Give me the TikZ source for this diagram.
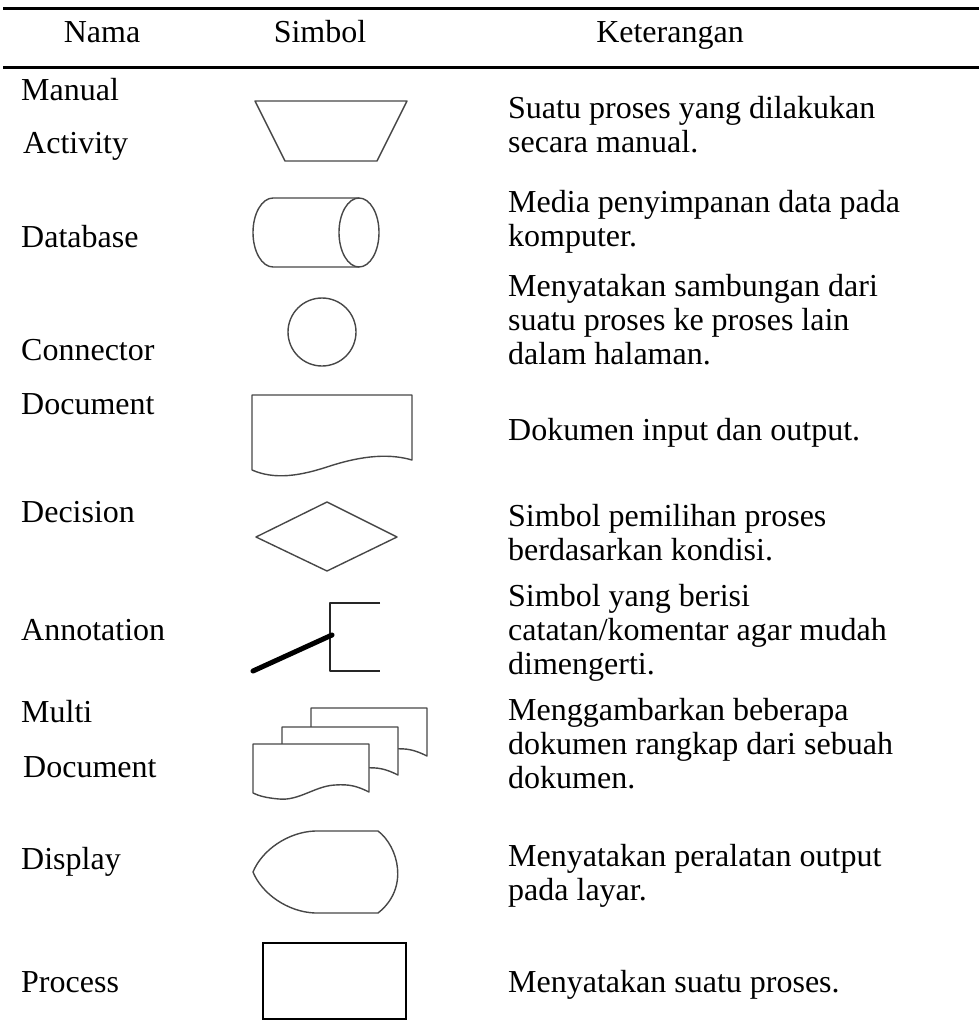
\documentclass[tikz,border=0pt]{standalone}
\usepackage{fontspec}
\setmainfont{Liberation Serif}
\begin{document}
\begin{tikzpicture}[x=1pt,y=-1pt,
  txt/.style={anchor=base west,inner sep=0pt,font=\fontsize{32}{34}\selectfont},
  hdr/.style={anchor=base,inner sep=0pt,font=\fontsize{32}{34}\selectfont},
  rule/.style={line width=3pt},
  sym/.style={draw=black!72,line width=1.4pt,line join=round},
  symfill/.style={sym,fill=white}]
\useasboundingbox (0,0) rectangle (979,1025);

% table rules
\draw[rule] (3,9) -- (979,9);
\draw[rule] (3,68) -- (979,68);

% header
\node[hdr] (hNama) at (102,43) {Nama};
\node[hdr] (hSimbol) at (320,43) {Simbol};
\node[hdr] (hKet) at (670,43) {Keterangan};

% names
\node[txt] (nManual) at (21,100) {Manual};
\node[txt] (nActivity) at (23,153) {Activity};
\node[txt] (nDatabase) at (21,247) {Database};
\node[txt] (nConnector) at (21,360) {Connector};
\node[txt] (nDocument) at (21,414) {Document};
\node[txt] (nDecision) at (21,522) {Decision};
\node[txt] (nAnnotation) at (21,640) {Annotation};
\node[txt] (nMulti) at (21,722) {Multi};
\node[txt] (nMultiDoc) at (23,777) {Document};
\node[txt] (nDisplay) at (21,869) {Display};
\node[txt] (nProcess) at (21,992) {Process};

% descriptions
\node[txt] (d1a) at (508,118) {Suatu proses yang dilakukan};
\node[txt] (d1b) at (508,152) {secara manual.};
\node[txt] (d2a) at (508,212) {Media penyimpanan data pada};
\node[txt] (d2b) at (508,246) {komputer.};
\node[txt] (d3a) at (508,296) {Menyatakan sambungan dari};
\node[txt] (d3b) at (508,330) {suatu proses ke proses lain};
\node[txt] (d3c) at (508,364) {dalam halaman.};
\node[txt] (d4a) at (508,440) {Dokumen input dan output.};
\node[txt] (d5a) at (508,526) {Simbol pemilihan proses};
\node[txt] (d5b) at (508,560) {berdasarkan kondisi.};
\node[txt] (d6a) at (508,606) {Simbol yang berisi};
\node[txt] (d6b) at (508,640) {catatan/komentar agar mudah};
\node[txt] (d6c) at (508,674) {dimengerti.};
\node[txt] (d7a) at (508,720) {Menggambarkan beberapa};
\node[txt] (d7b) at (508,754) {dokumen rangkap dari sebuah};
\node[txt] (d7c) at (508,788) {dokumen.};
\node[txt] (d8a) at (508,866) {Menyatakan peralatan output};
\node[txt] (d8b) at (508,900) {pada layar.};
\node[txt] (d9a) at (508,992) {Menyatakan suatu proses.};

% manual activity
\draw[sym] (255,101) -- (407,101) -- (377,161) -- (285,161) -- cycle;

% database (cylinder)
\draw[sym] (359,198) -- (273,198) arc[start angle=270,end angle=90,x radius=20,y radius=34.5] -- (359,267);
\draw[sym] (359,232.5) ellipse[x radius=20,y radius=34.5];

% connector
\draw[sym] (322,332) circle[radius=34];

% document
\draw[sym] (252,470) -- (252,395) -- (412,395) -- (412,460)
  .. controls (385,452) and (355,458) .. (330,466)
  .. controls (300,476) and (275,480) .. (252,470);

% decision
\draw[sym] (256,537) -- (327,502) -- (397,537) -- (327,571) -- cycle;

% annotation
\draw[sym,draw=black!85] (380,603) -- (330,603) -- (330,671) -- (380,671);
\draw[line width=5pt,line cap=round] (253,671) -- (332,635);

% multi document
\foreach \L/\T in {311/708,282/727,253/744}{
  \draw[symfill] (\L,\T+49) -- (\L,\T) -- (\L+116,\T) -- (\L+116,\T+48)
    .. controls (\L+104,\T+42) and (\L+96,\T+40) .. (\L+82,\T+41)
    .. controls (\L+62,\T+42) and (\L+46,\T+57) .. (\L+26,\T+55)
    .. controls (\L+14,\T+54) and (\L+6,\T+52) .. (\L,\T+49);
}

% display
\draw[sym] (315,831) -- (378,831)
  .. controls (398,846) and (410,888) .. (378,913)
  -- (315,913)
  .. controls (288,912) and (262,894) .. (253,872)
  .. controls (262,850) and (288,832) .. (315,831);

% process
\draw[line width=1.8pt] (263,943) rectangle (406,1019);
\end{tikzpicture}
\end{document}
